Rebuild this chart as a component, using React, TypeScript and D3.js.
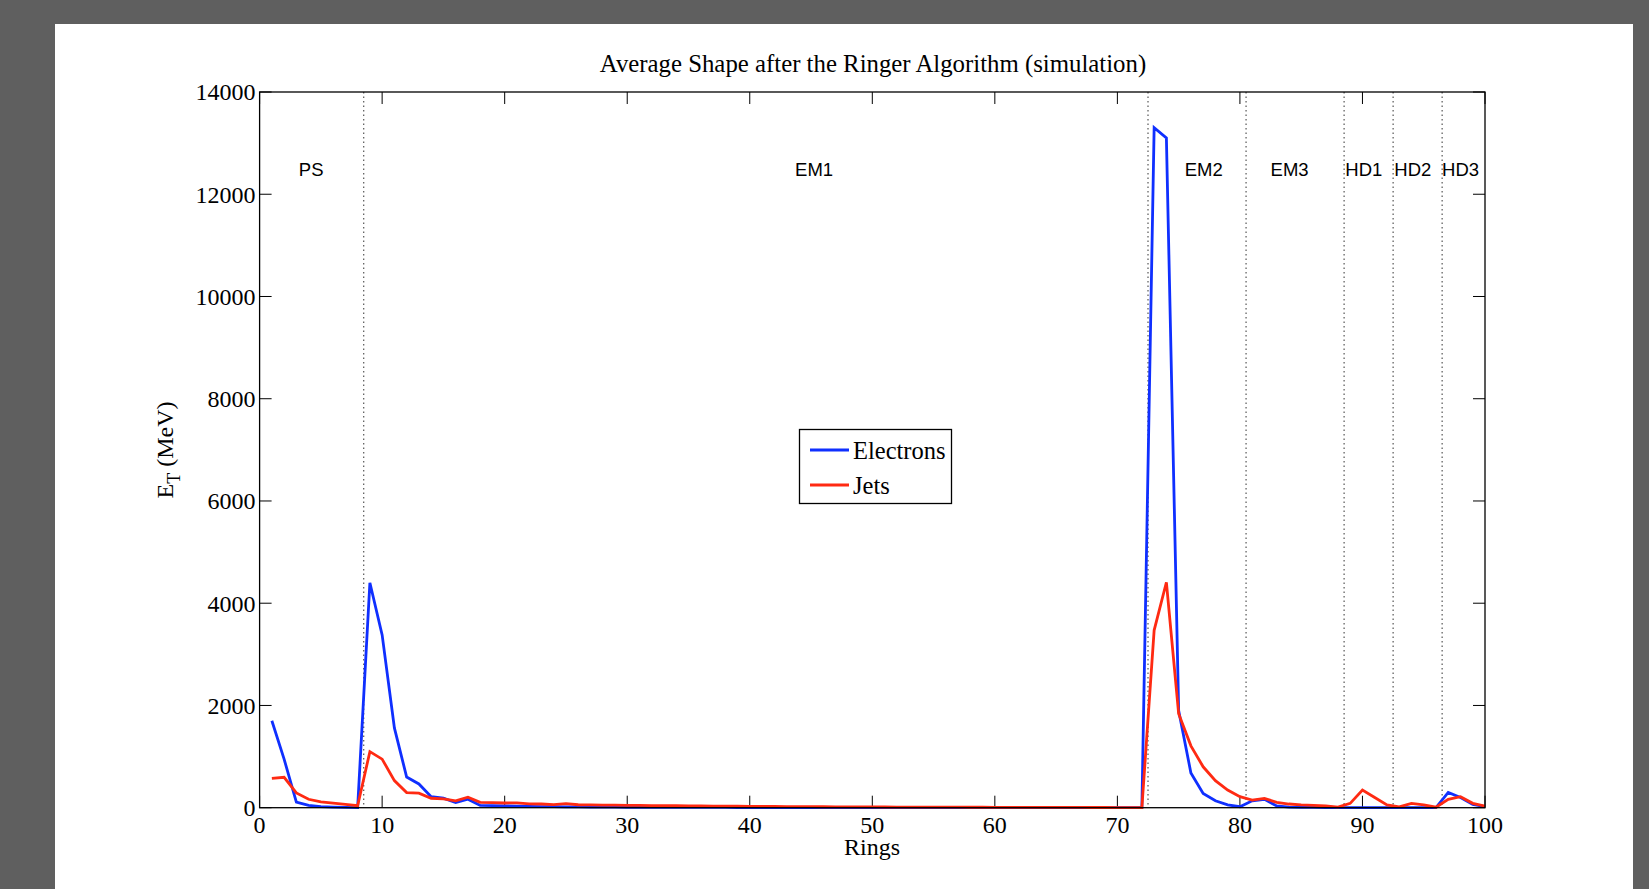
import React from "react";
import * as d3 from "d3";

const rings: number[] = d3.range(1, 101);

const electrons: number[] = [
  1700, 950, 110, 45, 20, 10, 5, 2, 4400, 3380,
  1560, 600, 465, 215, 185, 100, 165, 45, 40, 35,
  30, 25, 22, 20, 18, 15, 13, 12, 10, 9,
  8, 7, 7, 6, 6, 5, 5, 5, 4, 4,
  4, 4, 3, 3, 3, 3, 3, 2, 2, 2,
  2, 2, 2, 2, 2, 1, 1, 1, 1, 1,
  1, 1, 1, 1, 1, 1, 1, 1, 1, 1,
  1, 0, 13300, 13100, 1900, 680, 280, 135, 55, 20,
  135, 165, 35, 12, 8, 5, 3, 2, 2, 2,
  2, 2, 1, 1, 1, 1, 300, 200, 65, 20,
];

const jets: number[] = [
  575, 595, 290, 165, 112, 90, 65, 38, 1096, 950,
  530, 295, 285, 185, 172, 135, 205, 105, 100, 92,
  95, 75, 72, 62, 80, 58, 55, 52, 50, 46,
  44, 40, 42, 38, 36, 34, 32, 30, 28, 26,
  25, 24, 22, 21, 20, 19, 18, 17, 16, 15,
  14, 13, 12, 12, 11, 10, 10, 9, 9, 8,
  8, 7, 7, 6, 6, 5, 5, 4, 4, 3,
  3, 0, 3470, 4410, 1840, 1210, 800, 530, 345, 215,
  150, 183, 105, 72, 55, 45, 35, 12, 85, 345,
  200, 55, 15, 85, 55, 10, 165, 215, 85, 33,
];

const xTicks: number[] = [0, 10, 20, 30, 40, 50, 60, 70, 80, 90, 100];
const yTicks: number[] = [0, 2000, 4000, 6000, 8000, 10000, 12000, 14000];
const boundaries: number[] = [8.5, 72.5, 80.5, 88.5, 92.5, 96.5];
const regionNames: string[] = ["PS", "EM1", "EM2", "EM3", "HD1", "HD2", "HD3"];
const regionX: number[] = [3.2, 43.7, 75.5, 82.5, 88.6, 92.6, 96.5];
const regionY = 12480;

const seriesNames: string[] = ["Electrons", "Jets"];
const seriesColors: string[] = ["#0f2fff", "#ff2a12"];

const W = 1649;
const H = 889;
const L = 259.6, R = 1485, T = 92, B = 807.7;
const serif = "'Liberation Serif', 'Times New Roman', serif";
const sans = "'Liberation Sans', Arial, sans-serif";

export default function App() {
  const x = d3.scaleLinear().domain([0, 100]).range([L, R]);
  const y = d3.scaleLinear().domain([0, 14000]).range([B, T]);
  const line = d3
    .line<number>()
    .x((_, i) => x(rings[i]))
    .y((d) => y(d));
  const series = [electrons, jets];
  const tickLen = 12;

  return (
    <svg
      width={W}
      height={H}
      style={{ position: "fixed", left: 0, top: 0, display: "block" }}
    >
      <rect x={0} y={0} width={W} height={H} fill="#5f5f5f" />
      <rect x={55} y={24} width={1578} height={H} fill="#ffffff" />

      <text
        x={873}
        y={72}
        textAnchor="middle"
        fontFamily={serif}
        fontSize={24.8}
        fill="#000"
      >
        Average Shape after the Ringer Algorithm (simulation)
      </text>

      {/* boundaries */}
      {boundaries.map((b) => (
        <line
          key={b}
          x1={x(b)}
          x2={x(b)}
          y1={T}
          y2={B}
          stroke="#333"
          strokeWidth={1}
          strokeDasharray="1.5,3"
        />
      ))}

      {/* ticks */}
      {xTicks.map((t) => (
        <g key={"xt" + t}>
          <line x1={x(t)} x2={x(t)} y1={B} y2={B - tickLen} stroke="#000" />
          <line x1={x(t)} x2={x(t)} y1={T} y2={T + tickLen} stroke="#000" />
          <text
            x={x(t)}
            y={833}
            textAnchor="middle"
            fontFamily={serif}
            fontSize={24}
            fill="#000"
          >
            {t}
          </text>
        </g>
      ))}
      {yTicks.map((t) => (
        <g key={"yt" + t}>
          <line x1={L} x2={L + tickLen} y1={y(t)} y2={y(t)} stroke="#000" />
          <line x1={R} x2={R - tickLen} y1={y(t)} y2={y(t)} stroke="#000" />
          <text
            x={L - 4}
            y={y(t)}
            dy="0.35em"
            textAnchor="end"
            fontFamily={serif}
            fontSize={24}
            fill="#000"
          >
            {t}
          </text>
        </g>
      ))}

      {/* region labels */}
      {regionNames.map((n, i) => (
        <text
          key={n}
          x={x(regionX[i])}
          y={y(regionY)}
          dy="0.35em"
          fontFamily={sans}
          fontSize={18.5}
          fill="#000"
        >
          {n}
        </text>
      ))}

      {/* data */}
      {series.map((s, i) => (
        <path
          key={seriesNames[i]}
          d={line(s) || ""}
          fill="none"
          stroke={seriesColors[i]}
          strokeWidth={2.8}
          strokeLinejoin="miter"
        />
      ))}

      {/* axes box */}
      <rect
        x={L}
        y={T}
        width={R - L}
        height={B - T}
        fill="none"
        stroke="#000"
        strokeWidth={1.3}
      />

      {/* legend */}
      <rect
        x={799.5}
        y={429.5}
        width={152}
        height={74}
        fill="#fff"
        stroke="#000"
        strokeWidth={1.3}
      />
      {seriesNames.map((n, i) => (
        <g key={"lg" + n}>
          <line
            x1={810}
            x2={849}
            y1={450 + i * 35}
            y2={450 + i * 35}
            stroke={seriesColors[i]}
            strokeWidth={2.8}
          />
          <text
            x={853}
            y={450 + i * 35}
            dy="0.35em"
            fontFamily={serif}
            fontSize={24.5}
            fill="#000"
          >
            {n}
          </text>
        </g>
      ))}

      {/* axis labels */}
      <text
        x={872}
        y={855}
        textAnchor="middle"
        fontFamily={serif}
        fontSize={24}
        fill="#000"
      >
        Rings
      </text>
      <text
        transform="translate(173,450) rotate(-90)"
        textAnchor="middle"
        fontFamily={serif}
        fontSize={24}
        fill="#000"
      >
        <tspan>E</tspan>
        <tspan fontSize={18} dy={7}>T</tspan>
        <tspan dy={-7}> (MeV)</tspan>
      </text>
    </svg>
  );
}
